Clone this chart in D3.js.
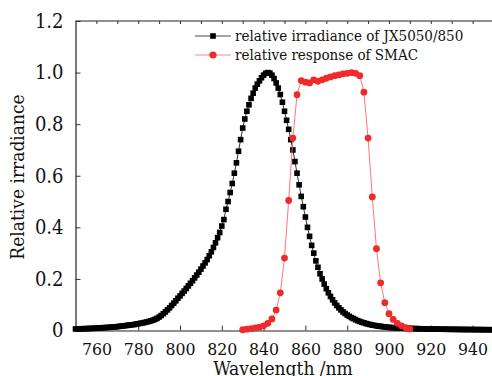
<!DOCTYPE html>
<html>
<head>
<meta charset="utf-8">
<script src="https://cdn.jsdelivr.net/npm/d3@7"></script>
<style>
  html, body { margin: 0; padding: 0; background: #fff; }
  svg { display: block; }
  text { font-family: "DejaVu Serif", "Liberation Serif", serif; font-stretch: condensed; fill: #111; }
</style>
</head>
<body>
<div id="chart"></div>
<script>
// black squares: relative irradiance of JX5050/850, one value per nm from 750 to 950
const LED_START = 750;
const ledIrradiance = [
  0.006, 0.006, 0.006, 0.007, 0.007, 0.007, 0.008, 0.008, 0.008, 0.009,
  0.009, 0.010, 0.010, 0.011, 0.011, 0.012, 0.012, 0.013, 0.014, 0.014,
  0.015, 0.016, 0.017, 0.018, 0.019, 0.020, 0.021, 0.022, 0.023, 0.025,
  0.026, 0.028, 0.029, 0.031, 0.033, 0.035, 0.037, 0.040, 0.043, 0.047,
  0.052, 0.058, 0.065, 0.072, 0.080, 0.088, 0.097, 0.106, 0.115, 0.125,
  0.134, 0.144, 0.153, 0.163, 0.173, 0.183, 0.193, 0.204, 0.215, 0.226,
  0.238, 0.250, 0.262, 0.275, 0.290, 0.305, 0.322, 0.340, 0.360, 0.380,
  0.405, 0.430, 0.470, 0.500, 0.535, 0.570, 0.610, 0.650, 0.695, 0.740,
  0.785, 0.820, 0.850, 0.875, 0.900, 0.920, 0.940, 0.955, 0.968, 0.980,
  0.990, 0.997, 1.000, 0.998, 0.990, 0.977, 0.960, 0.940, 0.915, 0.885,
  0.850, 0.815, 0.780, 0.740, 0.700, 0.655, 0.610, 0.565, 0.520, 0.480,
  0.440, 0.400, 0.365, 0.330, 0.300, 0.270, 0.245, 0.220, 0.200, 0.180,
  0.162, 0.146, 0.132, 0.119, 0.107, 0.097, 0.088, 0.080, 0.072, 0.066,
  0.060, 0.055, 0.050, 0.046, 0.042, 0.038, 0.035, 0.032, 0.030, 0.027,
  0.025, 0.023, 0.021, 0.020, 0.018, 0.017, 0.016, 0.015, 0.014, 0.013,
  0.012, 0.0115, 0.011, 0.0105, 0.010, 0.0095, 0.009, 0.0088, 0.0085, 0.0082,
  0.008, 0.0077, 0.0075, 0.0072, 0.007, 0.0068, 0.0066, 0.0064, 0.0062, 0.006,
  0.0058, 0.0056, 0.0055, 0.0053, 0.0052, 0.005, 0.0049, 0.0048, 0.0047, 0.0046,
  0.0045, 0.0044, 0.0043, 0.0042, 0.0041, 0.004, 0.0039, 0.0038, 0.0038, 0.0037,
  0.0036, 0.0035, 0.0035, 0.0034, 0.0033, 0.0033, 0.0032, 0.0031, 0.0031, 0.003,
  0.003
];

// red circles: relative response of SMAC, every 2 nm from 830 to 910
const SMAC_START = 830;
const SMAC_STEP = 2;
const smacResponse = [
  0.003, 0.005, 0.007, 0.010, 0.013, 0.018, 0.028, 0.045, 0.079, 0.146,
  0.281, 0.504, 0.746, 0.914, 0.969, 0.963, 0.960, 0.972, 0.966, 0.972,
  0.978, 0.983, 0.988, 0.991, 0.995, 0.997, 1.000, 0.997, 0.988, 0.924,
  0.746, 0.518, 0.317, 0.185, 0.108, 0.065, 0.043, 0.028, 0.018, 0.011,
  0.006
];

const xTicks = [760, 780, 800, 820, 840, 860, 880, 900, 920, 940];
const yTicks = [0, 0.2, 0.4, 0.6, 0.8, 1.0, 1.2];
const legendLabels = ["relative irradiance of JX5050/850", "relative response of SMAC"];

const led = ledIrradiance.map((v, i) => ({ nm: LED_START + i, v }));
const smac = smacResponse.map((v, i) => ({ nm: SMAC_START + i * SMAC_STEP, v }));

const W = 492, H = 376;
const plot = { left: 75.5, right: 493.5, top: 21, bottom: 330.5 };

const svg = d3.select("#chart").append("svg")
  .attr("width", W)
  .attr("height", H);

const x = d3.scaleLinear().domain([750, 950]).range([plot.left, plot.right]);
const y = d3.scaleLinear().domain([0, 1.2]).range([plot.bottom, plot.top]);

// frame: top border with small ticks every 10 nm
svg.append("g")
  .attr("transform", `translate(0,${plot.top})`)
  .call(d3.axisBottom(x).tickValues(d3.range(760, 950, 10)).tickSize(3).tickFormat(""))
  .call((g) => g.select(".domain").remove())
  .call((g) => g.selectAll("line").attr("stroke", "#333"));
svg.append("line")
  .attr("x1", plot.left).attr("x2", W)
  .attr("y1", plot.top).attr("y2", plot.top)
  .attr("stroke", "#222").attr("stroke-width", 1.2);

// bottom axis, ticks pointing inward
const xAxis = svg.append("g")
  .attr("transform", `translate(0,${plot.bottom})`)
  .call(d3.axisBottom(x).tickValues(xTicks).tickSize(-5).tickSizeOuter(0).tickPadding(12).tickFormat(d3.format("d")));
xAxis.select(".domain").attr("stroke", "#222").attr("stroke-width", 1.2);
xAxis.selectAll(".tick line").attr("stroke", "#333");
xAxis.selectAll("text").style("font-size", "17.5px").attr("fill", "#111");

// left axis
const yAxis = svg.append("g")
  .attr("transform", `translate(${plot.left},0)`)
  .call(d3.axisLeft(y).tickValues(yTicks).tickSize(-5).tickSizeOuter(0).tickPadding(12)
    .tickFormat((d) => (d === 0 ? "0" : d3.format(".1f")(d))));
yAxis.select(".domain").attr("stroke", "#222").attr("stroke-width", 1.2);
yAxis.selectAll(".tick line").attr("stroke", "#333");
yAxis.selectAll("text").style("font-size", "20px").attr("fill", "#111");

// axis titles
svg.append("text")
  .attr("transform", "rotate(-90)")
  .attr("x", -177)
  .attr("y", 24)
  .attr("text-anchor", "middle")
  .style("font-size", "19px")
  .text("Relative irradiance");

svg.append("text")
  .attr("x", 283)
  .attr("y", 375)
  .attr("text-anchor", "middle")
  .style("font-size", "19px")
  .text("Wavelength /nm");

// LED series
svg.append("path")
  .datum(led)
  .attr("fill", "none")
  .attr("stroke", "#000")
  .attr("stroke-width", 0.8)
  .attr("d", d3.line().x((d) => x(d.nm)).y((d) => y(d.v)));

svg.append("g")
  .selectAll("rect")
  .data(led)
  .join("rect")
  .attr("x", (d) => x(d.nm) - 2.8)
  .attr("y", (d) => y(d.v) - 2.8)
  .attr("width", 5.6)
  .attr("height", 5.6)
  .attr("fill", "#000");

// SMAC series
svg.append("path")
  .datum(smac)
  .attr("fill", "none")
  .attr("stroke", "#f66")
  .attr("stroke-width", 0.9)
  .attr("d", d3.line().x((d) => x(d.nm)).y((d) => y(d.v)));

svg.append("g")
  .selectAll("circle")
  .data(smac)
  .join("circle")
  .attr("cx", (d) => x(d.nm))
  .attr("cy", (d) => y(d.v))
  .attr("r", 3.4)
  .attr("fill", "#ee2a2a");

// legend
const legend = svg.append("g");
const rows = [
  { label: legendLabels[0], color: "#000", line: "#333", shape: "square", y: 36 },
  { label: legendLabels[1], color: "#ee2a2a", line: "#f77", shape: "circle", y: 55 },
];
rows.forEach((r) => {
  legend.append("line")
    .attr("x1", 195).attr("x2", 231)
    .attr("y1", r.y).attr("y2", r.y)
    .attr("stroke", r.line).attr("stroke-width", 0.9);
  if (r.shape === "square") {
    legend.append("rect")
      .attr("x", 213 - 2.8).attr("y", r.y - 2.8)
      .attr("width", 5.6).attr("height", 5.6)
      .attr("fill", r.color);
  } else {
    legend.append("circle")
      .attr("cx", 213).attr("cy", r.y).attr("r", 3.6)
      .attr("fill", r.color);
  }
  legend.append("text")
    .attr("x", 235)
    .attr("y", r.y + 5)
    .style("font-size", "15px")
    .text(r.label);
});
</script>
</body>
</html>
